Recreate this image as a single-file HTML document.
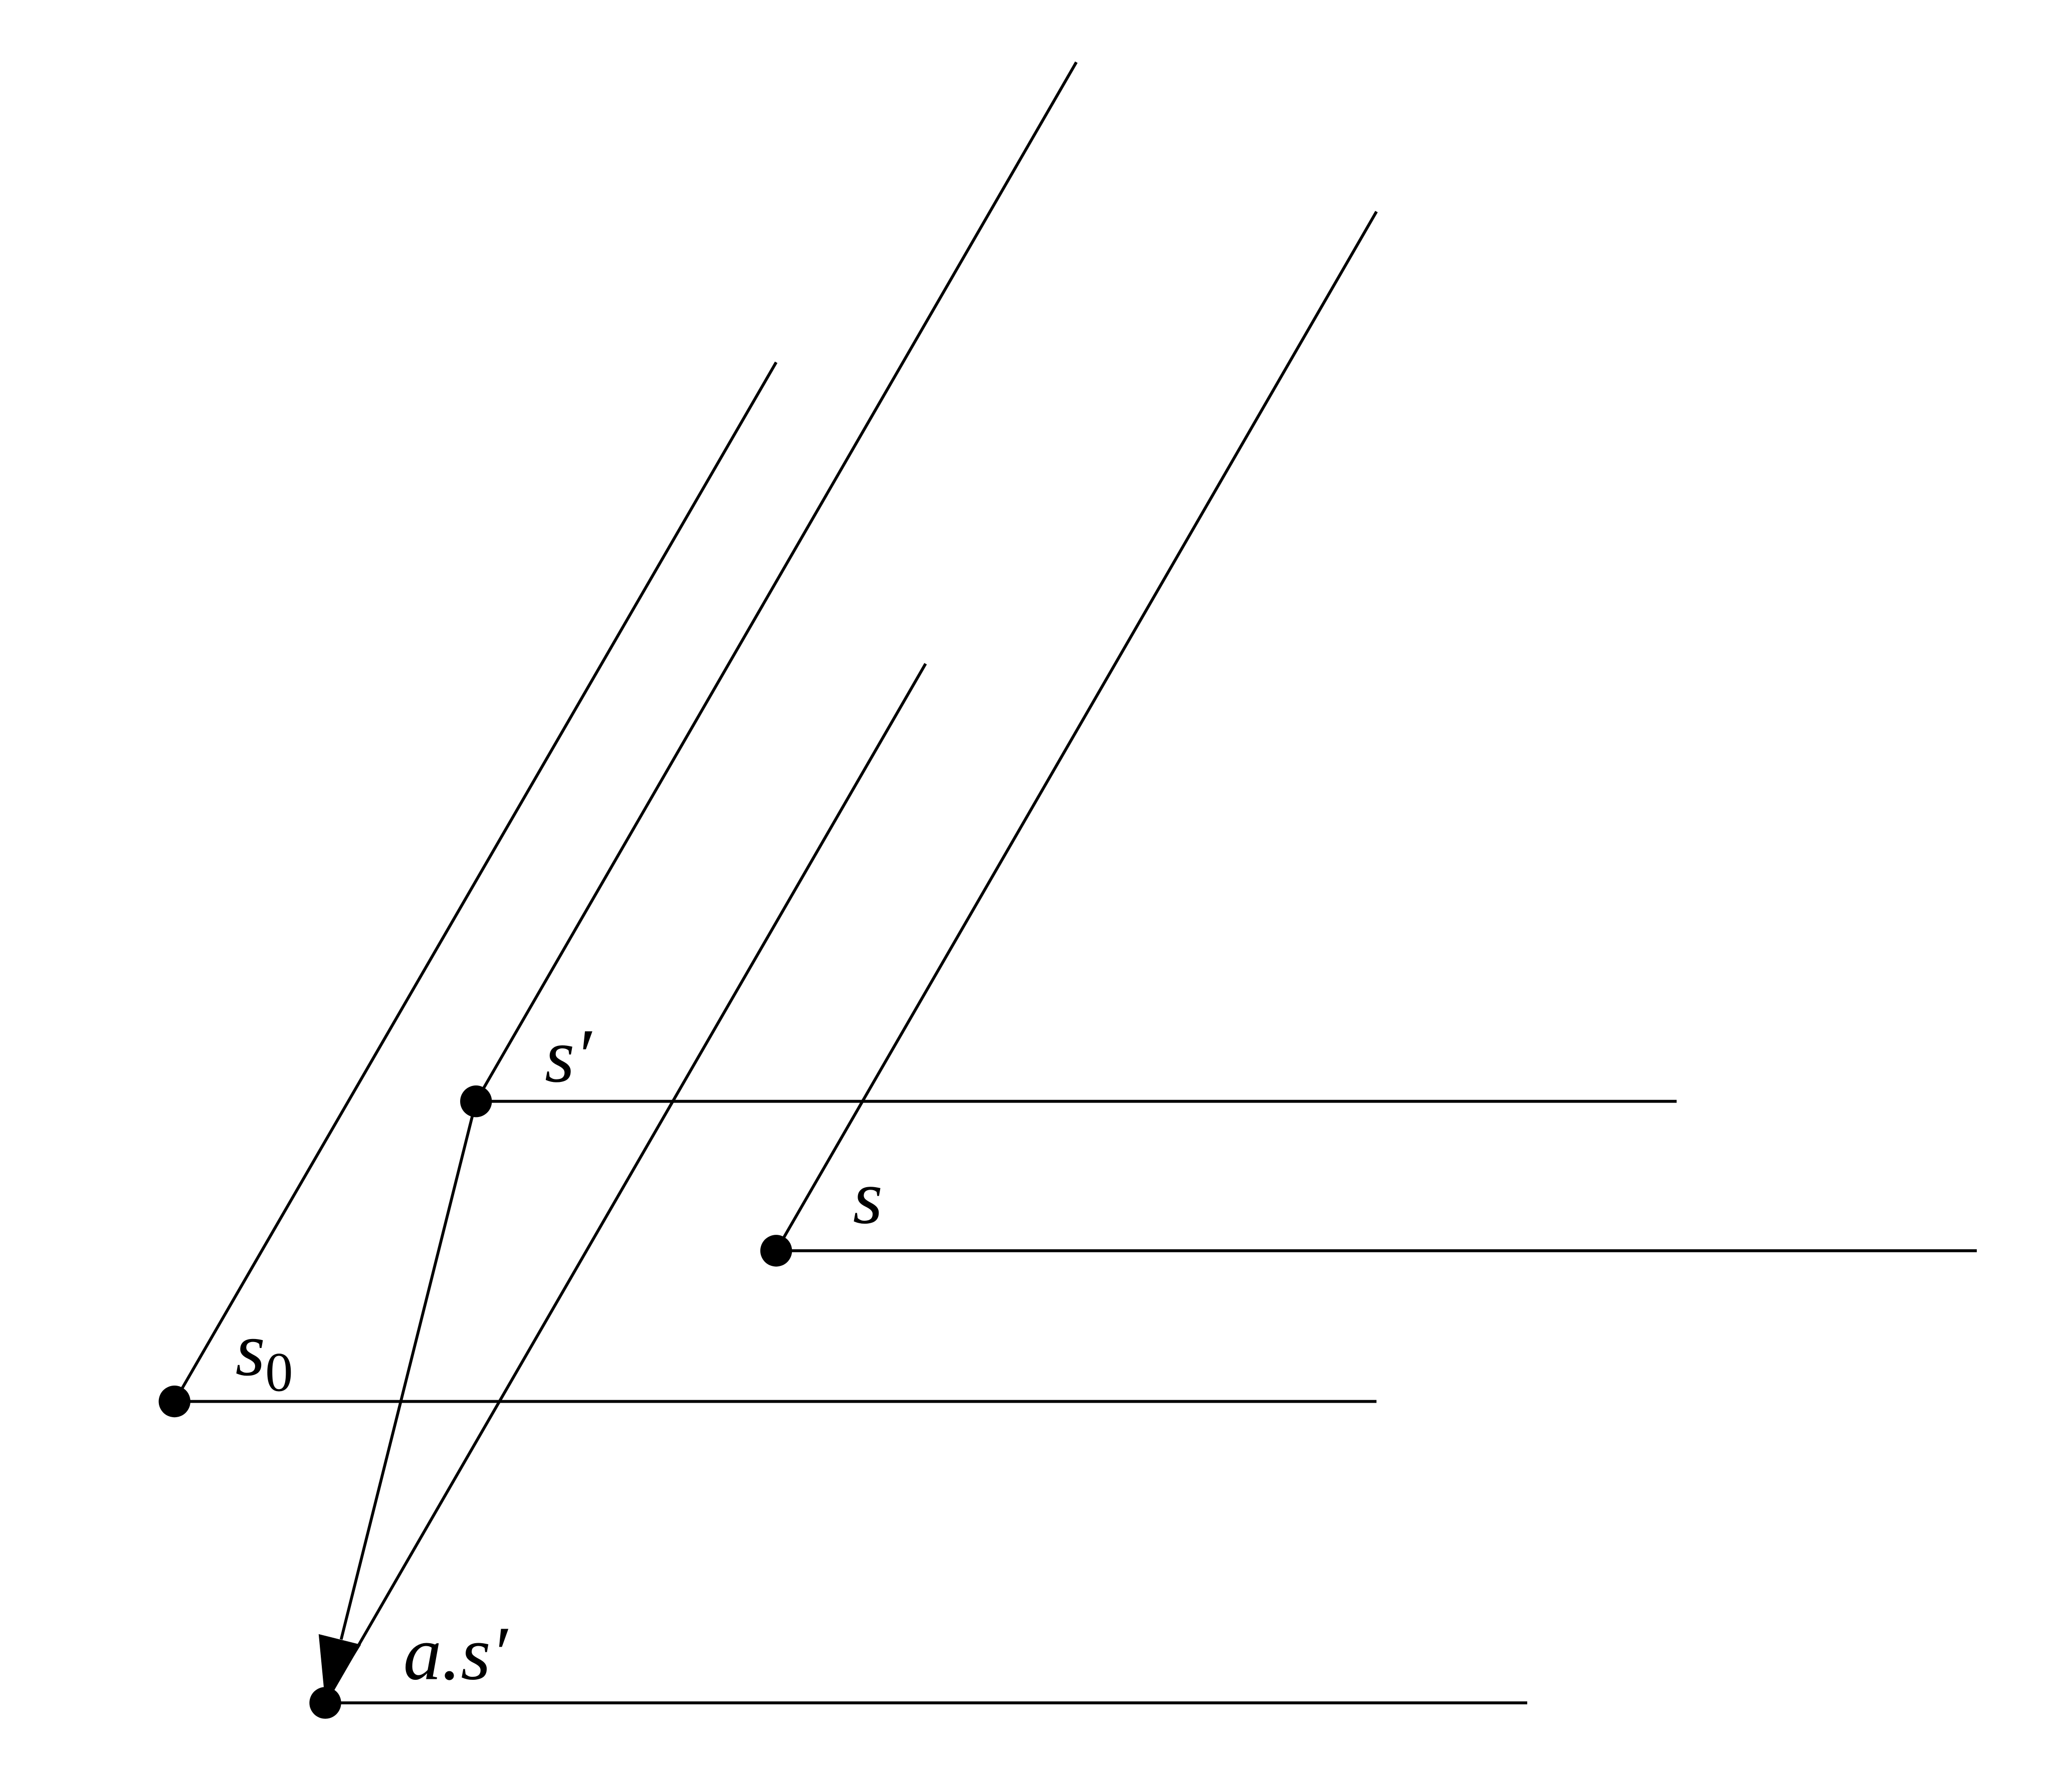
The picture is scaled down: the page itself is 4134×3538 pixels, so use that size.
<!DOCTYPE html>
<html><head><meta charset="utf-8"><style>
html,body{margin:0;padding:0;background:#fff;}
svg{display:block;}
text{font-family:"Liberation Serif",serif;font-style:italic;fill:#000;}
</style></head><body>
<svg width="4134" height="3538" viewBox="0 0 1567 1341" xmlns="http://www.w3.org/2000/svg">
<g stroke="#000" stroke-width="2.2" fill="none">
<line x1="132" y1="1060" x2="587" y2="274"/>
<line x1="132" y1="1060" x2="1041" y2="1060"/>
<line x1="360" y1="833" x2="814" y2="47"/>
<line x1="360" y1="833" x2="1268" y2="833"/>
<line x1="587" y1="946" x2="1041" y2="160"/>
<line x1="587" y1="946" x2="1495" y2="946"/>
<line x1="246" y1="1288" x2="700" y2="502"/>
<line x1="246" y1="1288" x2="1155" y2="1288"/>
<line x1="360" y1="833" x2="258" y2="1240"/>
</g>
<polygon points="246,1288 241,1236 273,1244" fill="#000"/>
<g fill="#000">
<circle cx="132" cy="1060" r="12"/>
<circle cx="360" cy="833" r="12"/>
<circle cx="587" cy="946" r="12"/>
<circle cx="246" cy="1288" r="12"/>
</g>
<text x="412" y="818" font-size="58">s′</text>
<text x="645" y="925" font-size="58">s</text>
<text x="178" y="1040" font-size="58">s<tspan font-style="normal" font-size="42" dy="12">0</tspan></text>
<text x="305" y="1270" font-size="58">a.s′</text>
</svg>
</body></html>
